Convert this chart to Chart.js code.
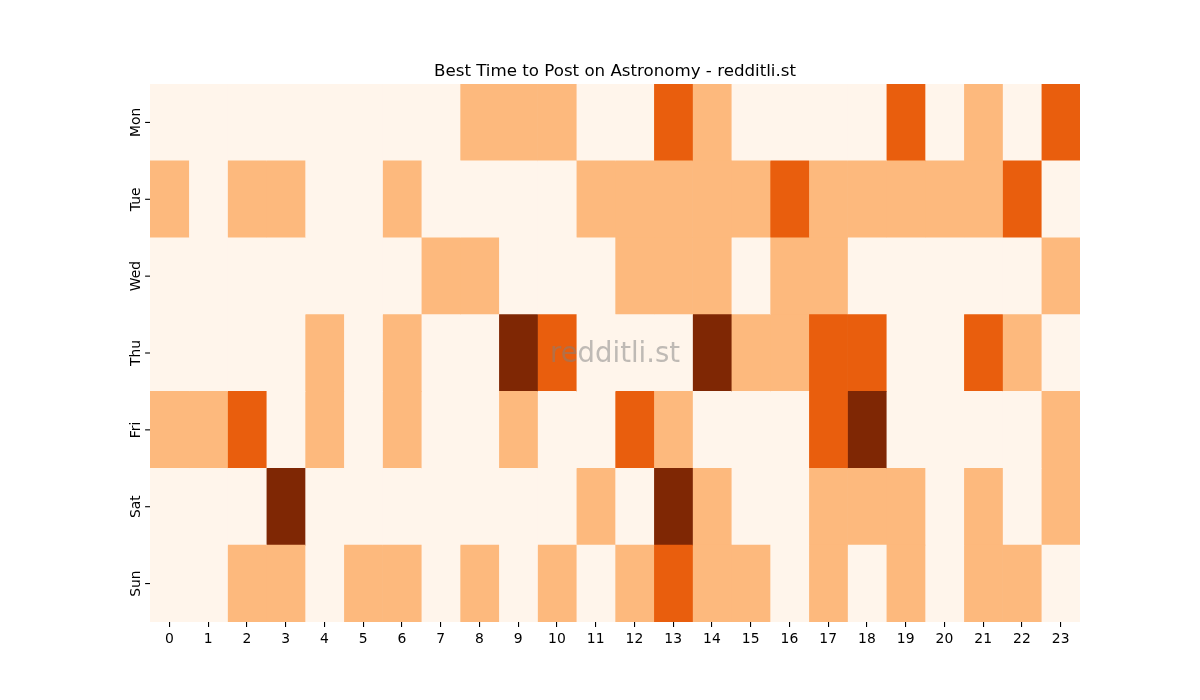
<!DOCTYPE html>
<html>
<head>
<meta charset="utf-8">
<script src="https://cdn.jsdelivr.net/npm/chart.js@4.4.1/dist/chart.umd.min.js"></script>
<style>
  html, body { margin: 0; padding: 0; background: #ffffff; }
  #wrap { width: 1200px; height: 700px; }
</style>
</head>
<body>
<div id="wrap"><canvas id="c" width="1200" height="700"></canvas></div>
<script>
// ---- Data (activity level per day and hour) ----
const days = ["Mon", "Tue", "Wed", "Thu", "Fri", "Sat", "Sun"];
const hours = ["0","1","2","3","4","5","6","7","8","9","10","11","12","13","14","15","16","17","18","19","20","21","22","23"];
const mon = [0,0,0,0,0,0,0,0,1,1,1,0,0,2,1,0,0,0,0,2,0,1,0,2];
const tue = [1,0,1,1,0,0,1,0,0,0,0,1,1,1,1,1,2,1,1,1,1,1,2,0];
const wed = [0,0,0,0,0,0,0,1,1,0,0,0,1,1,1,0,1,1,0,0,0,0,0,1];
const thu = [0,0,0,0,1,0,1,0,0,3,2,0,0,0,3,1,1,2,2,0,0,2,1,0];
const fri = [1,1,2,0,1,0,1,0,0,1,0,0,2,1,0,0,0,2,3,0,0,0,0,1];
const sat = [0,0,0,3,0,0,0,0,0,0,0,1,0,3,1,0,0,1,1,1,0,1,0,1];
const sun = [0,0,1,1,0,1,1,0,1,0,1,0,1,2,1,1,0,1,0,1,0,1,1,0];
const grid = [mon, tue, wed, thu, fri, sat, sun];

const levelColors = ["#fff5eb", "#fdb97d", "#e95e0d", "#7f2704"];
const FONT = "'DejaVu Sans', sans-serif";

const datasets = hours.map((h, hi) => ({
  label: h,
  data: days.map(() => 1),
  backgroundColor: days.map((d, di) => levelColors[grid[di][hi]]),
  borderWidth: 0,
  categoryPercentage: 1.0,
  barPercentage: 1.0
}));

const yLabelPlugin = {
  id: 'yLabels',
  afterDraw(chart) {
    const ctx = chart.ctx;
    const ys = chart.scales.y;
    const left = chart.chartArea.left;
    ctx.save();
    ctx.strokeStyle = '#000';
    ctx.lineWidth = 1.1;
    ctx.fillStyle = '#000';
    ctx.font = '13.9px ' + FONT;
    ctx.textAlign = 'center';
    ctx.textBaseline = 'alphabetic';
    days.forEach((d, i) => {
      const y = ys.getPixelForValue(i);
      ctx.beginPath();
      ctx.moveTo(left - 4.9, y);
      ctx.lineTo(left, y);
      ctx.stroke();
      ctx.save();
      ctx.translate(left - 10.5, y);
      ctx.rotate(-Math.PI / 2);
      ctx.fillText(d, 0, 0);
      ctx.restore();
    });
    ctx.restore();
  }
};

const watermarkPlugin = {
  id: 'watermark',
  afterDatasetsDraw(chart) {
    const ctx = chart.ctx;
    const a = chart.chartArea;
    ctx.save();
    ctx.fillStyle = 'rgba(128,128,128,0.5)';
    ctx.font = '27.5px ' + FONT;
    ctx.textAlign = 'center';
    ctx.textBaseline = 'middle';
    ctx.fillText('redditli.st', (a.left + a.right) / 2, (a.top + a.bottom) / 2 + 2);
    ctx.restore();
  }
};

new Chart(document.getElementById('c'), {
  type: 'bar',
  data: { labels: days, datasets: datasets },
  options: {
    indexAxis: 'y',
    responsive: false,
    animation: false,
    events: [],
    layout: { padding: { top: 0, left: 0, right: 120, bottom: 0 } },
    plugins: {
      legend: { display: false },
      tooltip: { enabled: false },
      title: {
        display: true,
        text: 'Best Time to Post on Astronomy - redditli.st',
        fullSize: false,
        color: '#000',
        font: { family: FONT, size: 16.67, weight: 'normal', lineHeight: 1.2 },
        padding: { top: 62, bottom: 2 }
      }
    },
    scales: {
      x: {
        type: 'linear',
        stacked: true,
        min: 0,
        max: 24,
        afterBuildTicks(axis) {
          axis.ticks = hours.map((h, i) => ({ value: i + 0.5 }));
        },
        afterFit(axis) { axis.height = 78; },
        ticks: {
          autoSkip: false,
          maxRotation: 0,
          minRotation: 0,
          padding: 4,
          color: '#000',
          font: { family: FONT, size: 13.9 },
          callback: (v, i) => hours[i]
        },
        grid: {
          display: true,
          drawOnChartArea: false,
          drawTicks: true,
          tickLength: 5,
          color: '#000',
          lineWidth: 1.1
        },
        border: { display: false }
      },
      y: {
        type: 'category',
        stacked: true,
        afterFit(axis) { axis.width = 150; },
        ticks: { display: false },
        grid: { display: false },
        border: { display: false }
      }
    }
  },
  plugins: [yLabelPlugin, watermarkPlugin]
});
</script>
</body>
</html>
